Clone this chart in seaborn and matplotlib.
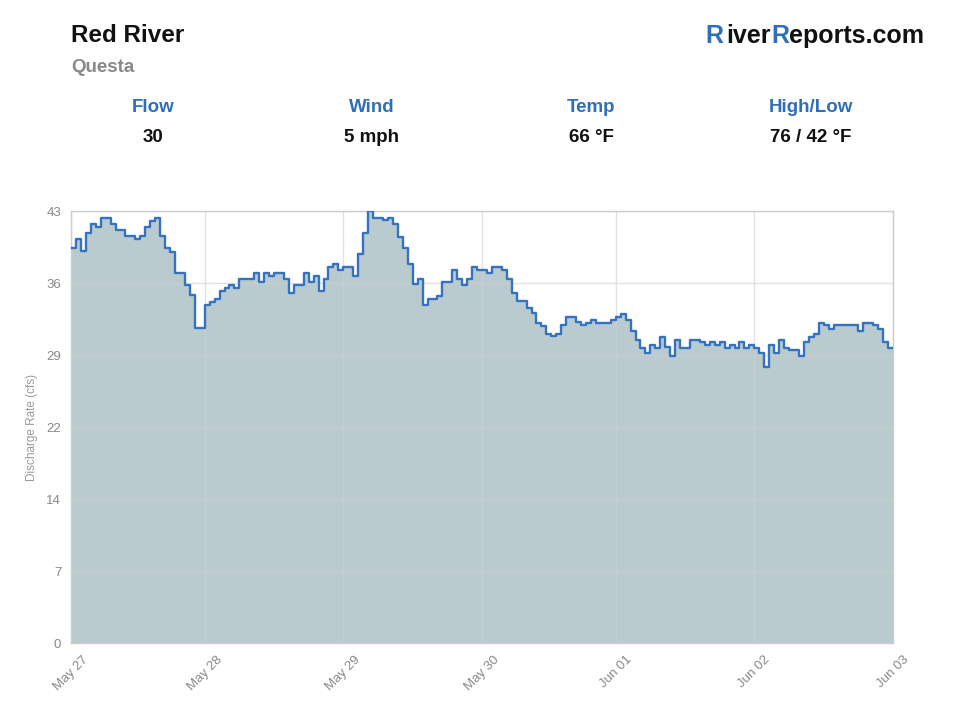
import numpy as np
import pandas as pd
import seaborn as sns
import matplotlib.pyplot as plt

# Step changes of the discharge series (sample index where value starts, value in cfs)
change_idx = [0, 1, 2, 3, 4, 5, 6, 8, 9, 11, 13, 14, 15, 16, 17, 18, 19, 20, 21, 23,
              24, 25, 27, 28, 29, 30, 31, 32, 33, 34, 37, 38, 39, 40, 41, 43, 44, 45, 47, 48,
              49, 50, 51, 52, 53, 54, 55, 57, 58, 59, 60, 61, 63, 64, 65, 66, 67, 68, 69, 70,
              71, 72, 74, 75, 77, 78, 79, 80, 81, 82, 84, 85, 87, 88, 89, 90, 92, 93, 94, 95,
              96, 97, 98, 99, 100, 102, 103, 104, 105, 106, 109, 110, 111, 112, 113, 114, 115, 116, 117, 118,
              119, 120, 121, 122, 123, 125, 127, 128, 129, 130, 131, 132, 133, 134, 135, 136, 137, 138, 139, 140,
              141, 142, 143, 144, 145, 147, 148, 149, 150, 151, 152, 153, 154, 159, 160, 162, 163, 164, 165]
change_val = [39.3, 40.2, 39.0, 40.8, 41.7, 41.4, 42.3, 41.7, 41.1, 40.5, 40.2, 40.5, 41.4, 42.0, 42.3, 40.5, 39.3, 38.9, 36.8, 35.6,
              34.6, 31.4, 33.6, 33.9, 34.2, 35.0, 35.3, 35.6, 35.3, 36.2, 36.8, 35.9, 36.8, 36.5, 36.8, 36.2, 34.8, 35.6, 36.8, 35.9,
              36.5, 35.0, 36.2, 37.4, 37.7, 37.1, 37.4, 36.5, 38.7, 40.8, 43.0, 42.3, 42.1, 42.3, 41.7, 40.4, 39.3, 37.7, 35.7, 36.2,
              33.6, 34.2, 34.5, 35.9, 37.1, 36.2, 35.6, 36.2, 37.4, 37.1, 36.8, 37.4, 37.1, 36.2, 34.8, 34.0, 33.3, 32.8, 31.9, 31.6,
              30.8, 30.6, 30.8, 31.7, 32.4, 32.0, 31.7, 31.9, 32.2, 31.9, 32.2, 32.4, 32.7, 32.2, 31.1, 30.2, 29.4, 28.9, 29.7, 29.4,
              30.5, 29.5, 28.6, 30.2, 29.4, 30.2, 30.0, 29.7, 30.0, 29.7, 30.0, 29.4, 29.7, 29.4, 30.0, 29.4, 29.7, 29.4, 28.9, 27.5,
              29.7, 28.9, 30.2, 29.4, 29.2, 28.6, 30.0, 30.5, 30.8, 31.9, 31.7, 31.3, 31.7, 31.1, 31.9, 31.7, 31.3, 30.0, 29.4]
n_samples = 166

tick_idx = [0, 27, 55, 83, 110, 138, 166]
tick_labels = ["May 27", "May 28", "May 29", "May 30", "Jun 01", "Jun 02", "Jun 03"]

stat_names = ["Flow", "Wind", "Temp", "High/Low"]
stat_values = ["30", "5 mph", "66 °F", "76 / 42 °F"]

# expand run-length steps to one value per sample, repeat last to close the step
lengths = np.diff(change_idx + [n_samples])
flow = np.repeat(change_val, lengths)
df = pd.DataFrame({"idx": np.arange(n_samples + 1), "cfs": np.append(flow, flow[-1])})

sns.set_style("white")
plt.rcParams['font.family'] = ['Liberation Sans', 'DejaVu Sans']

fig = plt.figure(figsize=(9.6, 7.2), dpi=100)
ax = fig.add_axes([71 / 960, 77 / 720, 822 / 960, 432 / 720])

ax.fill_between(df["idx"], df["cfs"], step="post", color="#b9cbce", lw=0, zorder=1)
sns.lineplot(data=df, x="idx", y="cfs", drawstyle="steps-post", color="#3573c0",
             lw=1.7, ax=ax, zorder=3)

ymax = 43
yt = [ymax * k / 6 for k in range(7)]
ax.set_ylim(0, ymax)
ax.set_xlim(0, n_samples)
ax.set_yticks(yt)
ax.set_yticklabels([str(round(v)) for v in yt])
ax.set_xticks(tick_idx)
ax.set_xticklabels(tick_labels, rotation=45, ha="center", va="top")
ax.grid(True, color="#d0d0d0", lw=1, alpha=0.6, zorder=2)
ax.set_axisbelow(False)
for line in ax.get_lines():
    if line.get_drawstyle() == "steps-post":
        line.set_zorder(4)
for s in ax.spines.values():
    s.set_color("#cccccc")
    s.set_linewidth(1)
ax.tick_params(axis="both", colors="#333333", length=4, width=1, labelsize=9.5,
               labelcolor="#888888", direction="out")
ax.tick_params(axis="y", pad=3)
ax.set_xlabel("")
ax.set_ylabel("Discharge Rate (cfs)", color="#999999", fontsize=8.5, labelpad=6)

# header
fig.text(71 / 960, 1 - 36 / 720, "Red River", fontsize=17.5, fontweight="bold",
         color="#111111", va="center", ha="left")
fig.text(71 / 960, 1 - 67 / 720, "Questa", fontsize=13.5, fontweight="bold",
         color="#888888", va="center", ha="left")

blue = "#2f6fba"
brand = [("eports.com", "#111111"), ("R", blue), ("iver", "#111111"), ("R", blue)]
renderer = fig.canvas.get_renderer()
x_right = 924
for part, col in brand:
    t = fig.text(x_right / 960, 1 - 36 / 720, part, fontsize=18, fontweight="bold",
                 color=col, va="center", ha="right")
    bb = t.get_window_extent(renderer=renderer)
    x_right = bb.x0 - (3 if part == "iver" else 0)

stat_x = [153, 372, 591, 811]
for sx, name, val in zip(stat_x, stat_names, stat_values):
    fig.text(sx / 960, 1 - 108 / 720, name, fontsize=13.5, fontweight="bold",
             color=blue, ha="center", va="center")
    fig.text(sx / 960, 1 - 137 / 720, val, fontsize=13.5, fontweight="bold",
             color="#111111", ha="center", va="center")

plt.savefig("out.png", dpi=100)
